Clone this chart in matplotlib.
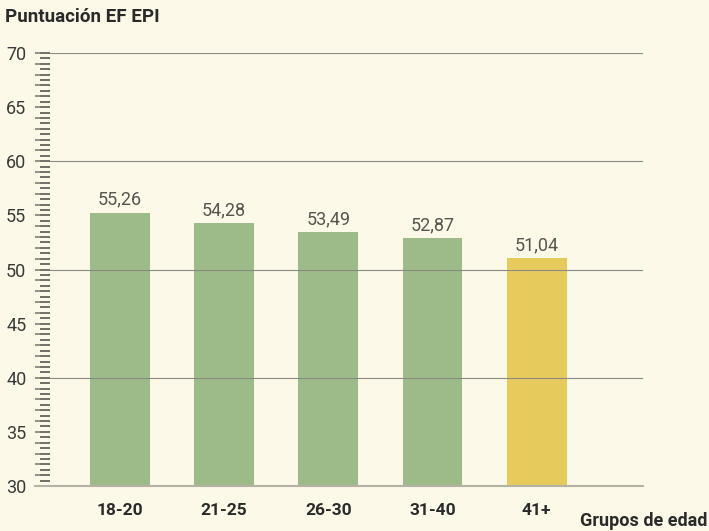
import numpy as np
from matplotlib import pyplot as plt
from matplotlib.ticker import MultipleLocator, NullFormatter

grupos = ["18-20", "21-25", "26-30", "31-40", "41+"]
puntuacion = [55.26, 54.28, 53.49, 52.87, 51.04]
etiquetas = ["55,26", "54,28", "53,49", "52,87", "51,04"]
colores = ["#9dbb89", "#9dbb89", "#9dbb89", "#9dbb89", "#e6cb5c"]

plt.rcParams["font.family"] = ["Roboto", "DejaVu Sans"]
bg = "#fcf9e8"

fig = plt.figure(figsize=(7.09, 5.31), dpi=100, facecolor=bg)
ax = fig.add_axes([0.0705, 0.0847, 0.8365, 0.8155], facecolor=bg)

x = np.arange(len(grupos))
ax.bar(x, puntuacion, width=0.575, color=colores, zorder=1)

ax.set_ylim(30, 70)
ax.set_xlim(-0.67, 5.02)
ax.yaxis.set_major_locator(MultipleLocator(5))
ax.yaxis.set_minor_locator(MultipleLocator(1))
for y in [40, 50, 60, 70]:
    ax.axhline(y, color="#8a8a82", lw=0.8, zorder=2)
ax.axhline(30, xmin=-0.025, color="#b4b2a4", lw=1.5, zorder=2, clip_on=False)

for s in ax.spines.values():
    s.set_visible(False)

tick_col = "#77776e"
ax.tick_params(axis="y", which="major", length=11, width=1.1, color=tick_col,
               labelsize=13, labelcolor="#3a3a3a", pad=6)
ax.tick_params(axis="y", which="minor", length=11, width=1.1, color=tick_col)

# half-unit ticks, shorter
sec = ax.secondary_yaxis("left")
sec.spines["left"].set_visible(False)
sec.yaxis.set_major_locator(MultipleLocator(0.5))
sec.yaxis.set_major_formatter(NullFormatter())
sec.tick_params(axis="y", which="major", length=7.2, width=1.1, color="#4a4a44")
sec.yaxis.set_minor_locator(MultipleLocator(100))

ax.set_xticks(x)
ax.set_xticklabels(grupos, fontsize=12.5, fontweight="bold", color="#2a2a2a")
ax.tick_params(axis="x", length=0, pad=12)

for xi, v, t in zip(x, puntuacion, etiquetas):
    ax.text(xi, v + 0.35, t, ha="center", va="bottom", fontsize=13,
            color="#555550")

fig.text(0.007, 0.968, "Puntuación EF EPI", fontsize=13.5, fontweight="bold",
         color="#2a2a2a", ha="left", va="center")
fig.text(0.998, 0.018, "Grupos de edad", fontsize=13, fontweight="bold",
         color="#2a2a2a", ha="right", va="center")

plt.savefig("out.png", dpi=100, facecolor=bg)
